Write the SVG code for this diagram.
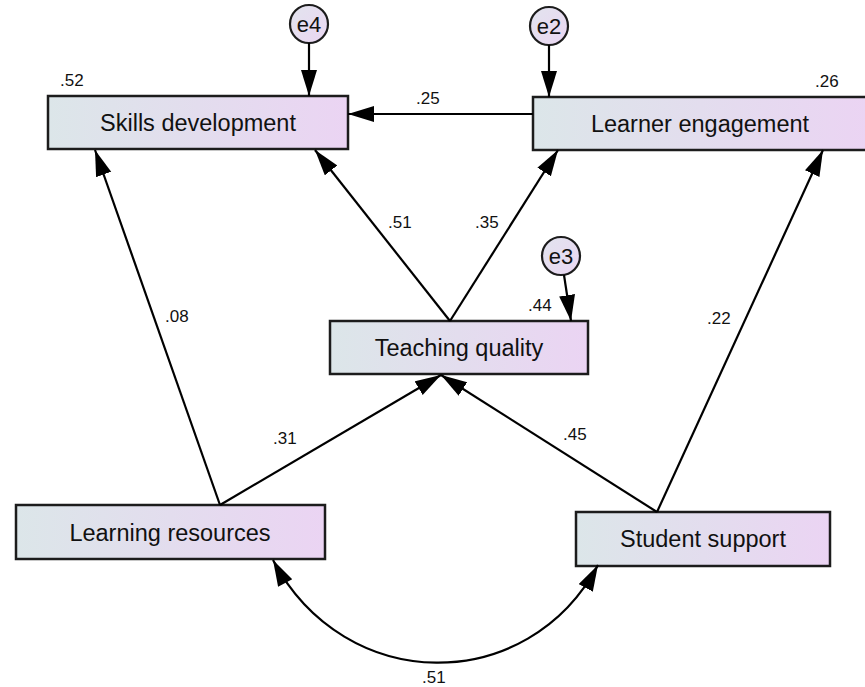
<svg xmlns="http://www.w3.org/2000/svg" width="865" height="687" viewBox="0 0 865 687">
  <defs>
    <linearGradient id="boxFill" x1="0" y1="0" x2="1" y2="0">
      <stop offset="0" stop-color="#dce6e9"/>
      <stop offset="0.5" stop-color="#e3ddee"/>
      <stop offset="1" stop-color="#ebd4f3"/>
    </linearGradient>
    <linearGradient id="errFill" x1="0" y1="0" x2="1" y2="1">
      <stop offset="0" stop-color="#e2e4ee"/>
      <stop offset="1" stop-color="#ead6f2"/>
    </linearGradient>
    <marker id="head" markerUnits="userSpaceOnUse" markerWidth="28" markerHeight="18" refX="26" refY="8" orient="auto">
      <path d="M0,0 L26,8 L0,16 Z" fill="#000"/>
    </marker>
    <marker id="headStart" markerUnits="userSpaceOnUse" markerWidth="28" markerHeight="18" refX="0" refY="8" orient="auto">
      <path d="M26,0 L0,8 L26,16 Z" fill="#000"/>
    </marker>
  </defs>
  <style>
    .box { fill: url(#boxFill); stroke: #1c1c1c; stroke-width: 2.5; }
    .err { fill: url(#errFill); stroke: #1c1c1c; stroke-width: 2.2; }
    .name { font-family: "Liberation Sans", Arial, sans-serif; font-size: 23.5px; fill: #111; text-anchor: middle; }
    .ename { font-family: "Liberation Sans", Arial, sans-serif; font-size: 22px; fill: #111; text-anchor: middle; }
    .coef { font-family: "Liberation Sans", Arial, sans-serif; font-size: 17px; fill: #111; }
    .edge { fill: none; stroke: #000; stroke-width: 2.2; }
  </style>
  <rect width="865" height="687" fill="#fff"/>

  <!-- observed variables -->
  <g id="skills-development">
    <rect class="box" x="48" y="96" width="300" height="53"/>
    <text class="name" x="198" y="131">Skills development</text>
    <text class="coef" x="60" y="86">.52</text>
  </g>
  <g id="learner-engagement">
    <rect class="box" x="533" y="97" width="335" height="53"/>
    <text class="name" x="700" y="132">Learner engagement</text>
    <text class="coef" x="815" y="87">.26</text>
  </g>
  <g id="teaching-quality">
    <rect class="box" x="330" y="321" width="258" height="53"/>
    <text class="name" x="459" y="356">Teaching quality</text>
    <text class="coef" x="528" y="311">.44</text>
  </g>
  <g id="learning-resources">
    <rect class="box" x="16" y="505" width="309" height="54"/>
    <text class="name" x="170" y="541">Learning resources</text>
  </g>
  <g id="student-support">
    <rect class="box" x="576" y="512" width="254" height="54"/>
    <text class="name" x="703" y="547">Student support</text>
  </g>

  <!-- error terms -->
  <g id="e4">
    <circle class="err" cx="309" cy="24" r="19"/>
    <text class="ename" x="309" y="32">e4</text>
  </g>
  <g id="e2">
    <circle class="err" cx="549" cy="26" r="19"/>
    <text class="ename" x="549" y="34">e2</text>
  </g>
  <g id="e3">
    <circle class="err" cx="561" cy="256" r="19"/>
    <text class="ename" x="561" y="264">e3</text>
  </g>

  <!-- paths, error arrows and covariance -->
  <g id="connectors">
    <line class="edge" x1="309" y1="43" x2="309" y2="96" marker-end="url(#head)"/>
    <line class="edge" x1="549" y1="45" x2="549" y2="97" marker-end="url(#head)"/>
    <line class="edge" x1="564" y1="275" x2="571" y2="321" marker-end="url(#head)"/>
    <line class="edge" x1="533" y1="114" x2="348" y2="114" marker-end="url(#head)"/>
    <line class="edge" x1="450" y1="321" x2="315" y2="150" marker-end="url(#head)"/>
    <line class="edge" x1="450" y1="321" x2="558" y2="150" marker-end="url(#head)"/>
    <line class="edge" x1="220" y1="505" x2="95" y2="150" marker-end="url(#head)"/>
    <line class="edge" x1="220" y1="505" x2="441" y2="375" marker-end="url(#head)"/>
    <line class="edge" x1="657" y1="512" x2="441" y2="375" marker-end="url(#head)"/>
    <line class="edge" x1="657" y1="512" x2="823" y2="150" marker-end="url(#head)"/>
    <path class="edge" d="M273,560 C345,696 528,696 598,565" marker-start="url(#headStart)" marker-end="url(#head)"/>

    <text class="coef" x="416" y="104">.25</text>
    <text class="coef" x="388" y="228">.51</text>
    <text class="coef" x="475" y="228">.35</text>
    <text class="coef" x="165" y="322">.08</text>
    <text class="coef" x="707" y="324">.22</text>
    <text class="coef" x="273" y="444">.31</text>
    <text class="coef" x="563" y="440">.45</text>
    <text class="coef" x="422" y="683">.51</text>
  </g>
</svg>
